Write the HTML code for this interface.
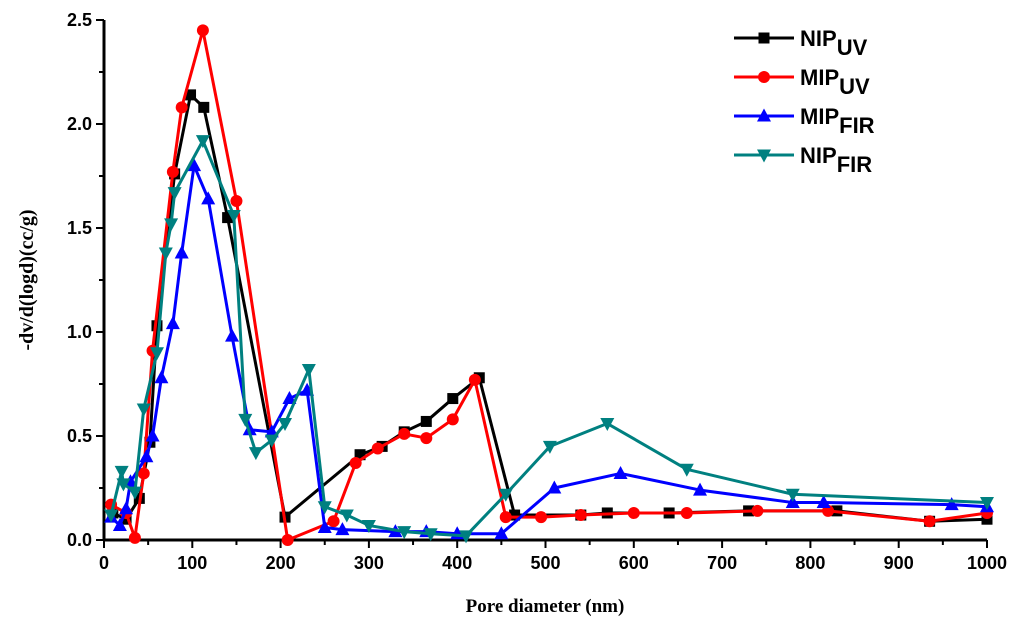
<!DOCTYPE html>
<html><head><meta charset="utf-8"><style>
body{margin:0;background:#fff;}
svg{display:block;font-family:"Liberation Sans",sans-serif;}
</style></head><body>
<svg id="chart" width="1024" height="630"></svg>
<script>
const seriesNames=["NIP_UV","MIP_UV","MIP_FIR","NIP_FIR"];
const nipUvX=[10,25,40,52,60,80,98,113,140,205,290,315,340,365,395,425,465,540,570,640,730,830,935,1000];
const nipUvY=[0.13,0.10,0.20,0.47,1.03,1.76,2.14,2.08,1.55,0.11,0.41,0.45,0.52,0.57,0.68,0.78,0.12,0.12,0.13,0.13,0.14,0.14,0.09,0.10];
const mipUvX=[8,25,35,45,55,78,88,112,150,208,260,285,310,340,365,395,420,455,495,540,600,660,740,820,935,1000];
const mipUvY=[0.17,0.13,0.01,0.32,0.91,1.77,2.08,2.45,1.63,0.0,0.09,0.37,0.44,0.51,0.49,0.58,0.77,0.11,0.11,0.12,0.13,0.13,0.14,0.14,0.09,0.13];
const mipFirX=[8,18,25,30,48,55,65,78,88,102,118,145,165,190,210,230,250,270,330,365,400,450,510,585,675,780,815,960,1000];
const mipFirY=[0.11,0.07,0.15,0.28,0.40,0.50,0.78,1.04,1.38,1.80,1.64,0.98,0.53,0.52,0.68,0.72,0.06,0.05,0.04,0.04,0.03,0.03,0.25,0.32,0.24,0.18,0.18,0.17,0.16];
const nipFirX=[8,20,22,35,45,60,70,76,80,112,147,160,172,190,205,232,250,275,300,340,370,410,455,505,570,660,780,1000];
const nipFirY=[0.12,0.33,0.27,0.23,0.63,0.90,1.38,1.52,1.67,1.92,1.56,0.58,0.42,0.48,0.56,0.82,0.16,0.12,0.07,0.04,0.03,0.02,0.22,0.45,0.56,0.34,0.22,0.18];
const xTicks=[0,100,200,300,400,500,600,700,800,900,1000];
const yTicks=[0.0,0.5,1.0,1.5,2.0,2.5];

const NS="http://www.w3.org/2000/svg";
const svg=document.getElementById('chart');
const X0=104,X1=987,Y0=540,Y1=20;
const sx=v=>X0+v/1000*(X1-X0);
const sy=v=>Y0-v/2.5*(Y0-Y1);
function mk(t,a,p){const e=document.createElementNS(NS,t);for(const k in a)e.setAttribute(k,a[k]);(p||svg).appendChild(e);return e;}

let ax=mk('line',{x1:X0,y1:Y1,x2:X0,y2:Y0+1,stroke:'#000','stroke-width':3});


ax=mk('line',{x1:X0-1,y1:Y0,x2:X1,y2:Y0,stroke:'#000','stroke-width':3});


for(let v=0;v<=1000;v+=50){const maj=v%100===0;mk('line',{x1:sx(v),y1:Y0,x2:sx(v),y2:Y0+(maj?8:5),stroke:'#000','stroke-width':2});}
xTicks.forEach(v=>{const t=mk('text',{x:sx(v),y:Y0+29,'text-anchor':'middle','font-size':18,'font-weight':'bold'});t.textContent=v;

});
for(let v=0;v<=2.5001;v+=0.25){const maj=Math.abs(v*2-Math.round(v*2))<1e-6;mk('line',{x1:X0,y1:sy(v),x2:X0-(maj?8:5),y2:sy(v),stroke:'#000','stroke-width':2});}
yTicks.forEach(v=>{const t=mk('text',{x:X0-12,y:sy(v)+6,'text-anchor':'end','font-size':18,'font-weight':'bold'});t.textContent=v.toFixed(1);

});
let tt=mk('text',{x:545,y:612,'text-anchor':'middle','font-size':19,'font-weight':'bold','font-family':'Liberation Serif, serif'});tt.textContent='Pore diameter (nm)';


tt=mk('text',{x:0,y:0,'text-anchor':'middle','font-size':20,'font-weight':'bold','font-family':'Liberation Serif, serif',transform:'translate(33,280) rotate(-90)'});tt.textContent='-dv/d(logd)(cc/g)';



function marker(g,type,x,y,c){
 if(type==='sq')mk('rect',{x:x-5.5,y:y-5.5,width:11,height:11,fill:c},g);
 else if(type==='ci')mk('circle',{cx:x,cy:y,r:6,fill:c},g);
 else if(type==='up')mk('polygon',{points:`${x},${y-7.5} ${x-7},${y+5.5} ${x+7},${y+5.5}`,fill:c},g);
 else mk('polygon',{points:`${x},${y+7.5} ${x-7},${y-5.5} ${x+7},${y-5.5}`,fill:c},g);
}
const defs=[[nipUvX,nipUvY,'#000','sq','nip-uv'],[mipUvX,mipUvY,'#ff0000','ci','mip-uv'],[mipFirX,mipFirY,'#0000ff','up','mip-fir'],[nipFirX,nipFirY,'#008080','dn','nip-fir']];
defs.forEach(([xs,ys,c,m,n])=>{
 const g=mk('g',{});
 
 
 mk('polyline',{points:xs.map((v,i)=>sx(v)+','+sy(ys[i])).join(' '),fill:'none',stroke:c,'stroke-width':3,'stroke-linejoin':'round'},g);
 xs.forEach((v,i)=>marker(g,m,sx(v),sy(ys[i]),c));
});
const legLabels=[['NIP','UV'],['MIP','UV'],['MIP','FIR'],['NIP','FIR']];
defs.forEach((d,i)=>{
 const y=38+i*39;
 const g=mk('g',{});
 
 
 mk('line',{x1:734,y1:y,x2:794,y2:y,stroke:d[2],'stroke-width':3},g);
 marker(g,d[3],764,y,d[2]);
 const t=mk('text',{x:800,y:y+8,'font-size':22,'font-weight':'bold'},g);
 t.textContent=legLabels[i][0];
 const s=mk('tspan',{dy:9},t);s.textContent=legLabels[i][1];
});
</script>
</body></html>
